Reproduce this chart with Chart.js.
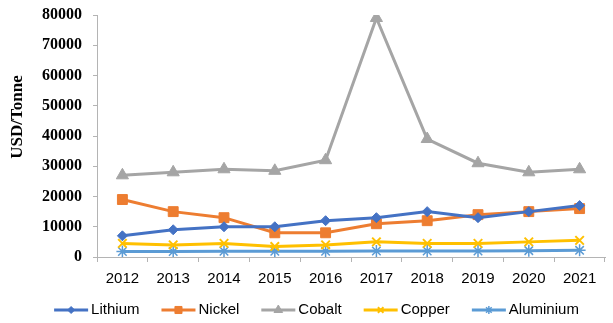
<!DOCTYPE html>
<html>
<head>
<meta charset="utf-8">
<script src="https://cdn.jsdelivr.net/npm/chart.js@4/dist/chart.umd.min.js"></script>
<style>
  html, body { margin: 0; padding: 0; background: #ffffff; }
  #wrap { width: 613px; height: 323px; }
</style>
</head>
<body>
<div id="wrap"><canvas id="c" width="613" height="323"></canvas></div>
<script>
// Metal prices, USD per tonne
const years = ['2012', '2013', '2014', '2015', '2016', '2017', '2018', '2019', '2020', '2021'];
const lithium   = [7000, 9000, 10000, 10000, 12000, 13000, 15000, 13000, 15000, 17000];
const nickel    = [19000, 15000, 13000, 8000, 8000, 11000, 12000, 14000, 15000, 16000];
const cobalt    = [27000, 28000, 29000, 28500, 32000, 79000, 39000, 31000, 28000, 29000];
const copper    = [4500, 4000, 4500, 3500, 4000, 5000, 4500, 4500, 5000, 5500];
const aluminium = [1800, 1800, 1900, 1900, 1900, 2000, 2000, 2000, 2100, 2200];
const yTicks = [0, 10000, 20000, 30000, 40000, 50000, 60000, 70000, 80000];
const yTitle = 'USD/Tonne';

const axisGray = '#B4B4B4';
const serif = '"Liberation Serif", "Times New Roman", serif';
const sans = '"Liberation Sans", Arial, sans-serif';

function series(label, data, color, style, radius, bw) {
  return {
    label, data,
    borderColor: color,
    backgroundColor: color,
    borderWidth: 3,
    pointStyle: style,
    pointRadius: radius,
    pointHoverRadius: radius,
    pointBorderWidth: bw,
    pointBorderColor: color,
    pointBackgroundColor: color,
    tension: 0
  };
}

const datasets = [
  series('Lithium', lithium, '#4472C4', 'rectRot', 5, 1),
  series('Nickel', nickel, '#ED7D31', 'rect', 7, 1),
  series('Cobalt', cobalt, '#A5A5A5', 'triangle', 7, 1),
  series('Copper', copper, '#FFC000', 'crossRot', 6, 2),
  series('Aluminium', aluminium, '#5B9BD5', 'star', 6, 1.5)
];

// Vertical axis title, set a little above the middle of the value axis
const sideTitle = {
  id: 'sideTitle',
  afterDraw(chart) {
    const ctx = chart.ctx;
    ctx.save();
    ctx.translate(17.5, 117);
    ctx.rotate(-Math.PI / 2);
    ctx.font = 'bold 17px ' + serif;
    ctx.fillStyle = '#000000';
    ctx.textAlign = 'center';
    ctx.textBaseline = 'middle';
    ctx.fillText(yTitle, 0, 0);
    ctx.restore();
  }
};

// Legend row under the axis: short line with the series marker, then the name
const lineLegend = {
  id: 'lineLegend',
  afterDraw(chart) {
    const ctx = chart.ctx;
    ctx.save();
    ctx.font = '15px ' + sans;
    const lineLen = 34, gap = 3, spacing = 22;
    const items = chart.data.datasets.map(ds => ({ ds, w: ctx.measureText(ds.label).width }));
    const total = items.reduce((s, it) => s + lineLen + gap + it.w, 0) + spacing * (items.length - 1);
    let x = 316.5 - total / 2;
    const y = 310;
    items.forEach(({ ds, w }) => {
      ctx.strokeStyle = ds.borderColor;
      ctx.lineWidth = 3;
      ctx.beginPath();
      ctx.moveTo(x, y);
      ctx.lineTo(x + lineLen, y);
      ctx.stroke();
      ctx.fillStyle = ds.borderColor;
      ctx.strokeStyle = ds.borderColor;
      ctx.lineWidth = ds.pointBorderWidth;
      Chart.helpers.drawPoint(ctx, {
        pointStyle: ds.pointStyle,
        radius: Math.max(3.5, ds.pointRadius - 2),
        rotation: 0,
        borderWidth: ds.pointBorderWidth
      }, x + lineLen / 2, y);
      ctx.fillStyle = '#000000';
      ctx.textBaseline = 'middle';
      ctx.textAlign = 'left';
      ctx.fillText(ds.label, x + lineLen + gap, y);
      x += lineLen + gap + w + spacing;
    });
    ctx.restore();
  }
};

new Chart(document.getElementById('c'), {
  type: 'line',
  data: { labels: years, datasets },
  options: {
    responsive: false,
    animation: false,
    layout: { padding: { top: 15, right: 1, bottom: 36, left: 0 } },
    plugins: {
      legend: { display: false },
      tooltip: { enabled: false }
    },
    scales: {
      x: {
        offset: true,
        grid: {
          offset: true,
          drawOnChartArea: false,
          drawTicks: true,
          tickLength: 5,
          color: axisGray
        },
        border: { color: axisGray, width: 1 },
        ticks: {
          color: '#000000',
          padding: 8,
          maxRotation: 0,
          font: { family: sans, size: 15 }
        },
        afterFit(scale) { scale.height = 30; }
      },
      y: {
        min: 0,
        max: 80000,
        afterBuildTicks(scale) { scale.ticks = yTicks.map(v => ({ value: v })); },
        grid: {
          drawOnChartArea: false,
          drawTicks: true,
          tickLength: 4,
          color: axisGray
        },
        border: { color: axisGray, width: 1 },
        ticks: {
          color: '#000000',
          padding: 11,
          font: { family: serif, size: 16, weight: 'bold' },
          callback: v => String(v)
        },
        afterFit(scale) {
          scale.width = 97;
          scale.paddingTop = 0;
          scale.paddingBottom = 0;
        }
      }
    }
  },
  plugins: [lineLegend, sideTitle]
});
</script>
</body>
</html>
